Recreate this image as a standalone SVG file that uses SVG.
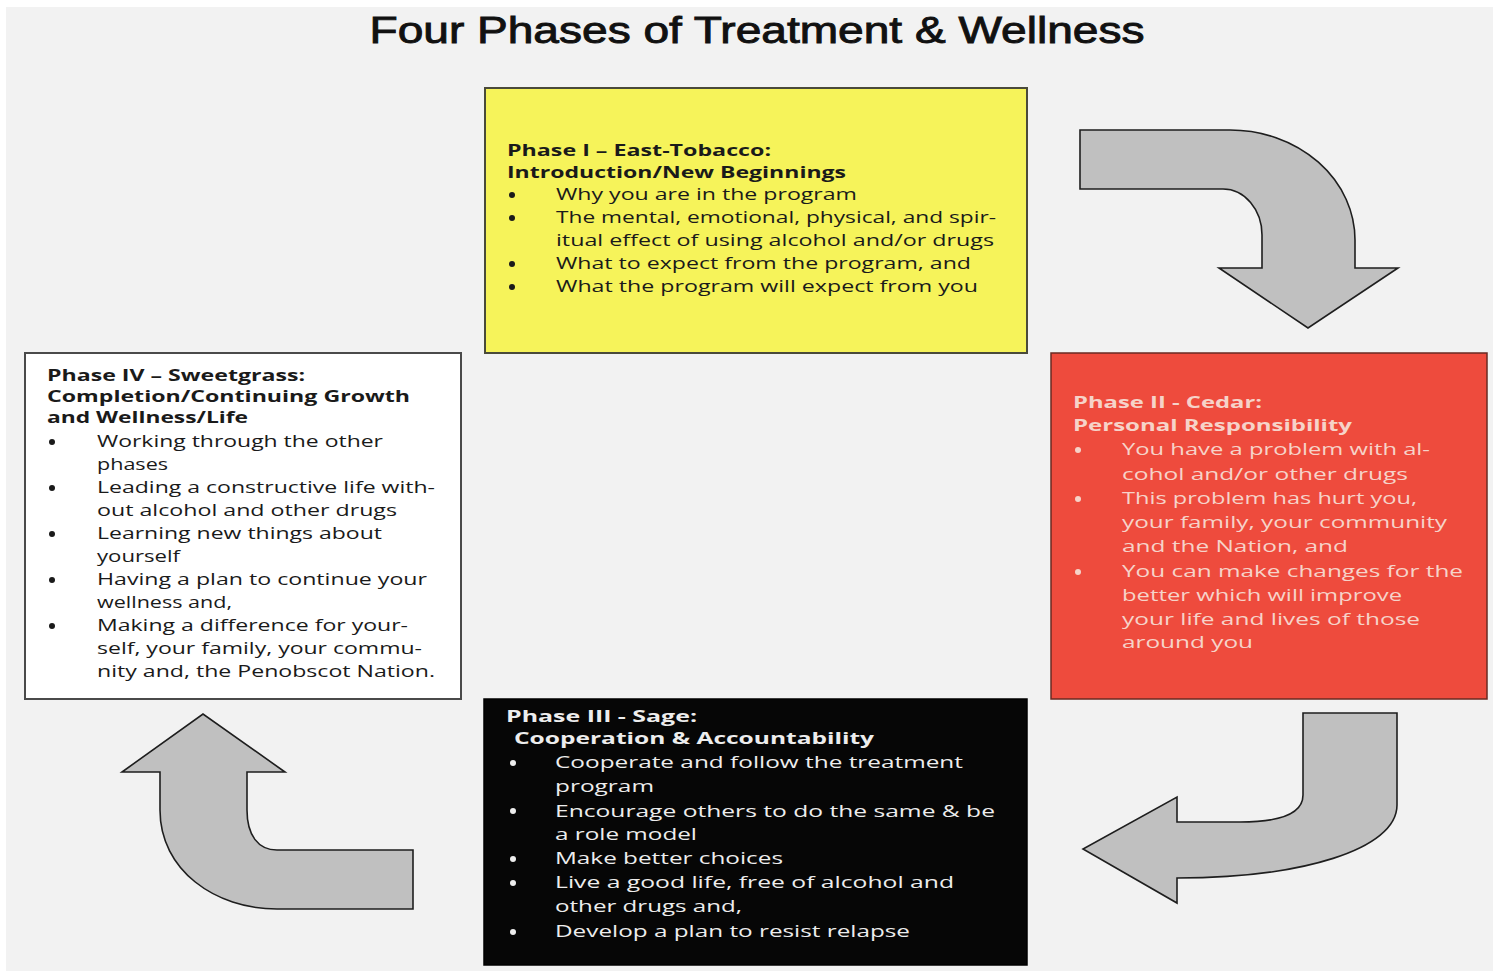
<svg xmlns="http://www.w3.org/2000/svg" width="1493" height="971" viewBox="0 0 1493 971">
<style>
.t{font-family:"Open Sans","Liberation Sans",sans-serif;font-size:16.5px;}
.b{font-weight:700;font-size:16px;}
.dk{fill:#1a1a1a;}
.lt{fill:#f6d3c9;}
.wh{fill:#ededed;}
.arrow{fill:#c0c0c0;stroke:#1e1e1e;stroke-width:1.6;stroke-linejoin:miter;}
</style>
<rect x="0" y="0" width="1493" height="971" fill="#ffffff"/>
<rect x="6" y="7" width="1487" height="964" fill="#f2f2f2"/>
<text x="757" y="43" text-anchor="middle" font-family="'Liberation Sans',Arial,sans-serif" font-size="37" fill="#111" stroke="#111" stroke-width="0.9" textLength="775" lengthAdjust="spacingAndGlyphs">Four Phases of Treatment &amp; Wellness</text>

<g id="connectors">
<path class="arrow" d="M1080,130 L1230,130 A125,110 0 0 1 1355,240 L1355,268 L1398,268 L1308,328 L1219,268 L1262,268 L1262,235 A39,46 0 0 0 1223,189 L1080,189 Z"/>
<path class="arrow" d="M1303,713 L1397,713 L1397,805 C1397,850 1300,878 1177,878 L1177,903 L1083,849 L1177,797 L1177,822 L1240,822 C1285,822 1303,812 1303,795 Z"/>
<path class="arrow" d="M413,850 L277,850 C258,850 247,835 247,810 L247,772 L285,772 L203,714 L122,772 L160,772 L160,810 C160,870 215,909 277,909 L413,909 Z"/>
</g>

<g id="phase1">
<rect x="485" y="88" width="542" height="265" fill="#f6f35a" stroke="#4a4a3a" stroke-width="2"/>
<g class="t dk">
<text class="b" x="507" y="156" textLength="264" lengthAdjust="spacingAndGlyphs">Phase I – East-Tobacco:</text>
<text class="b" x="507" y="178" textLength="339" lengthAdjust="spacingAndGlyphs">Introduction/New Beginnings</text>
<text x="556" y="200" textLength="301" lengthAdjust="spacingAndGlyphs">Why you are in the program</text>
<text x="556" y="223" textLength="440" lengthAdjust="spacingAndGlyphs">The mental, emotional, physical, and spir-</text>
<text x="556" y="246" textLength="438" lengthAdjust="spacingAndGlyphs">itual effect of using alcohol and/or drugs</text>
<text x="556" y="269" textLength="415" lengthAdjust="spacingAndGlyphs">What to expect from the program, and</text>
<text x="556" y="292" textLength="422" lengthAdjust="spacingAndGlyphs">What the program will expect from you</text>
</g>
<g fill="#1a1a1a">
<circle cx="512" cy="195" r="3"/><circle cx="512" cy="218" r="3"/><circle cx="512" cy="264" r="3"/><circle cx="512" cy="287" r="3"/>
</g>
</g>

<g id="phase2">
<rect x="1051" y="353" width="436" height="346" fill="#ee4b3d" stroke="#6a2a22" stroke-width="1.5"/>
<g class="t lt">
<text class="b" x="1073" y="408" textLength="189" lengthAdjust="spacingAndGlyphs">Phase II - Cedar:</text>
<text class="b" x="1073" y="431" textLength="279" lengthAdjust="spacingAndGlyphs">Personal Responsibility</text>
<text x="1122" y="455" textLength="308" lengthAdjust="spacingAndGlyphs">You have a problem with al-</text>
<text x="1122" y="480" textLength="286" lengthAdjust="spacingAndGlyphs">cohol and/or other drugs</text>
<text x="1122" y="504" textLength="295" lengthAdjust="spacingAndGlyphs">This problem has hurt you,</text>
<text x="1122" y="528" textLength="325" lengthAdjust="spacingAndGlyphs">your family, your community</text>
<text x="1122" y="552" textLength="226" lengthAdjust="spacingAndGlyphs">and the Nation, and</text>
<text x="1122" y="577" textLength="341" lengthAdjust="spacingAndGlyphs">You can make changes for the</text>
<text x="1122" y="601" textLength="280" lengthAdjust="spacingAndGlyphs">better which will improve</text>
<text x="1122" y="625" textLength="298" lengthAdjust="spacingAndGlyphs">your life and lives of those</text>
<text x="1122" y="648" textLength="131" lengthAdjust="spacingAndGlyphs">around you</text>
</g>
<g fill="#f6d3c9">
<circle cx="1078" cy="450" r="3"/><circle cx="1078" cy="499" r="3"/><circle cx="1078" cy="572" r="3"/>
</g>
</g>

<g id="phase3">
<rect x="484" y="699" width="543" height="266" fill="#060606" stroke="#000" stroke-width="1.5"/>
<g class="t wh">
<text class="b" x="506" y="722" textLength="191" lengthAdjust="spacingAndGlyphs">Phase III - Sage:</text>
<text class="b" x="514" y="744" textLength="360" lengthAdjust="spacingAndGlyphs">Cooperation &amp; Accountability</text>
<text x="555" y="768" textLength="408" lengthAdjust="spacingAndGlyphs">Cooperate and follow the treatment</text>
<text x="555" y="792" textLength="99" lengthAdjust="spacingAndGlyphs">program</text>
<text x="555" y="817" textLength="440" lengthAdjust="spacingAndGlyphs">Encourage others to do the same &amp; be</text>
<text x="555" y="840" textLength="142" lengthAdjust="spacingAndGlyphs">a role model</text>
<text x="555" y="864" textLength="228" lengthAdjust="spacingAndGlyphs">Make better choices</text>
<text x="555" y="888" textLength="399" lengthAdjust="spacingAndGlyphs">Live a good life, free of alcohol and</text>
<text x="555" y="912" textLength="187" lengthAdjust="spacingAndGlyphs">other drugs and,</text>
<text x="555" y="937" textLength="355" lengthAdjust="spacingAndGlyphs">Develop a plan to resist relapse</text>
</g>
<g fill="#ededed">
<circle cx="513" cy="763" r="3"/><circle cx="513" cy="811" r="3"/><circle cx="513" cy="859" r="3"/><circle cx="513" cy="883" r="3"/><circle cx="513" cy="932" r="3"/>
</g>
</g>

<g id="phase4">
<rect x="25" y="353" width="436" height="346" fill="#ffffff" stroke="#4a4a4a" stroke-width="2"/>
<g class="t dk">
<text class="b" x="47" y="381" textLength="258" lengthAdjust="spacingAndGlyphs">Phase IV – Sweetgrass:</text>
<text class="b" x="47" y="402" textLength="363" lengthAdjust="spacingAndGlyphs">Completion/Continuing Growth</text>
<text class="b" x="47" y="423" textLength="201" lengthAdjust="spacingAndGlyphs">and Wellness/Life</text>
<text x="97" y="447" textLength="286" lengthAdjust="spacingAndGlyphs">Working through the other</text>
<text x="97" y="470" textLength="71" lengthAdjust="spacingAndGlyphs">phases</text>
<text x="97" y="493" textLength="338" lengthAdjust="spacingAndGlyphs">Leading a constructive life with-</text>
<text x="97" y="516" textLength="300" lengthAdjust="spacingAndGlyphs">out alcohol and other drugs</text>
<text x="97" y="539" textLength="285" lengthAdjust="spacingAndGlyphs">Learning new things about</text>
<text x="97" y="562" textLength="83" lengthAdjust="spacingAndGlyphs">yourself</text>
<text x="97" y="585" textLength="330" lengthAdjust="spacingAndGlyphs">Having a plan to continue your</text>
<text x="97" y="608" textLength="135" lengthAdjust="spacingAndGlyphs">wellness and,</text>
<text x="97" y="631" textLength="311" lengthAdjust="spacingAndGlyphs">Making a difference for your-</text>
<text x="97" y="654" textLength="325" lengthAdjust="spacingAndGlyphs">self, your family, your commu-</text>
<text x="97" y="677" textLength="338" lengthAdjust="spacingAndGlyphs">nity and, the Penobscot Nation.</text>
</g>
<g fill="#1a1a1a">
<circle cx="52" cy="442" r="3"/><circle cx="52" cy="488" r="3"/><circle cx="52" cy="534" r="3"/><circle cx="52" cy="580" r="3"/><circle cx="52" cy="626" r="3"/>
</g>
</g>
</svg>
